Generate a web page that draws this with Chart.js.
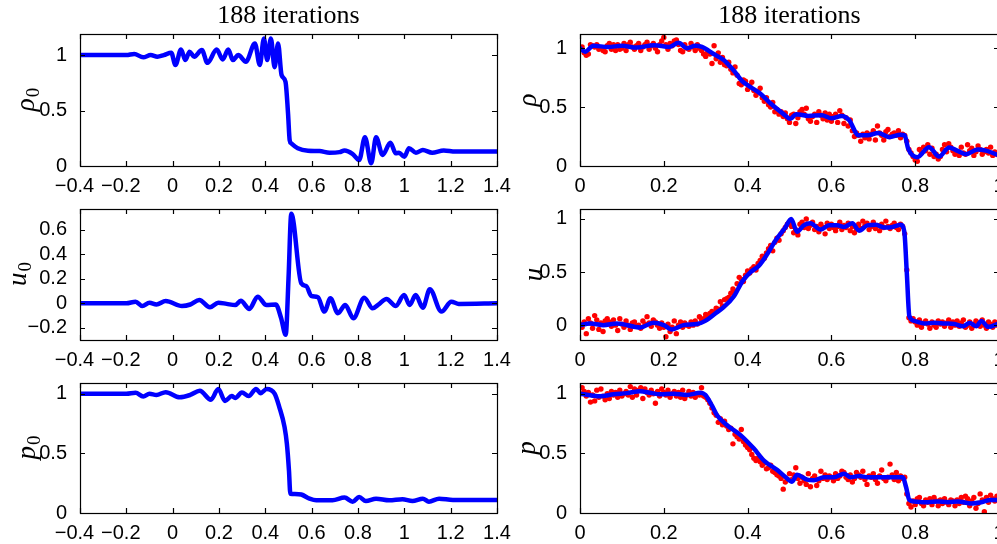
<!DOCTYPE html>
<html>
<head>
<meta charset="utf-8">
<script src="https://cdn.jsdelivr.net/npm/chart.js@4.4.0/dist/chart.umd.min.js"></script>
<style>
  html, body { margin: 0; padding: 0; background: #fff; overflow: hidden; width: 997px; height: 544px; }
  canvas { position: absolute; }
</style>
</head>
<body>
<canvas id="rho0"></canvas>
<canvas id="u0"></canvas>
<canvas id="p0"></canvas>
<canvas id="rho"></canvas>
<canvas id="u"></canvas>
<canvas id="p"></canvas>
<script>
// tick labels
const xTicksLeft = [-0.4, -0.2, 0, 0.2, 0.4, 0.6, 0.8, 1, 1.2, 1.4];
const xTicksRight = [0, 0.2, 0.4, 0.6, 0.8, 1];
const yTicksHalf = [0, 0.5, 1];
const yTicksU0 = [-0.2, 0, 0.2, 0.4, 0.6];

// left column: initial guesses
const rho0X = [-0.4, -0.2, -0.166, -0.127, -0.095, -0.066, -0.038, -0.006, 0.012, 0.036,
  0.055, 0.073, 0.093, 0.126, 0.15, 0.19, 0.216, 0.24, 0.26, 0.283,
  0.316, 0.355, 0.376, 0.394, 0.408, 0.424, 0.44, 0.455, 0.47, 0.487,
  0.498, 0.505, 0.512, 0.54, 0.584, 0.634, 0.677, 0.72, 0.742, 0.776,
  0.805, 0.83, 0.857, 0.878, 0.906, 0.94, 0.963, 0.977, 1.0, 1.02,
  1.05, 1.08, 1.12, 1.17, 1.22, 1.4];
const rho0Y = [1, 1, 1.01, 0.98, 1, 0.985, 1, 1.02, 0.91, 1.05,
  0.955, 1.03, 0.985, 1.045, 0.93, 1.05, 0.96, 1.05, 0.955, 1.0,
  0.94, 1.105, 0.91, 1.15, 0.955, 1.15, 0.89, 1.105, 0.82, 0.76,
  0.475, 0.234, 0.204, 0.16, 0.138, 0.135, 0.12, 0.125, 0.14, 0.11,
  0.054, 0.26, 0.024, 0.26, 0.1, 0.21, 0.115, 0.12, 0.084, 0.16,
  0.12, 0.144, 0.12, 0.14, 0.13, 0.13];

const u0X = [-0.4, -0.2, -0.16, -0.131, -0.1, -0.07, -0.03, 0.04, 0.076, 0.115,
  0.161, 0.197, 0.233, 0.27, 0.294, 0.331, 0.367, 0.405, 0.445, 0.468,
  0.488, 0.5, 0.512, 0.555, 0.577, 0.598, 0.627, 0.655, 0.681, 0.713,
  0.745, 0.78, 0.827, 0.863, 0.891, 0.923, 0.963, 0.999, 1.023, 1.049,
  1.08, 1.11, 1.16, 1.203, 1.235, 1.4];
const u0Y = [0, 0, 0.013, -0.022, 0.005, -0.01, 0.019, -0.022, -0.01, 0.027,
  -0.033, 0.005, -0.005, -0.015, 0.02, -0.046, 0.054, -0.015, -0.01, -0.12,
  -0.258, 0.2, 0.732, 0.163, 0.14, 0.06, 0.049, -0.068, 0.04, -0.081,
  -0.014, -0.122, 0.046, -0.041, -0.006, 0.035, -0.022, 0.067, -0.014, 0.067,
  -0.036, 0.114, -0.068, 0.013, -0.005, 0];

const p0X = [-0.4, -0.2, -0.16, -0.127, -0.1, -0.07, -0.03, 0.03, 0.076, 0.117,
  0.165, 0.197, 0.226, 0.255, 0.27, 0.299, 0.328, 0.36, 0.38, 0.406,
  0.44, 0.46, 0.483, 0.493, 0.502, 0.508, 0.527, 0.555, 0.591, 0.62,
  0.69, 0.742, 0.777, 0.805, 0.834, 0.878, 0.935, 0.992, 1.035, 1.08,
  1.106, 1.15, 1.21, 1.4];
const p0Y = [1, 1, 1.008, 0.977, 1, 0.99, 1.013, 0.97, 0.99, 1.025,
  0.95, 1.04, 0.94, 0.98, 0.965, 1.01, 0.98, 1.04, 1.005, 1.04,
  1.0, 0.89, 0.72, 0.58, 0.357, 0.162, 0.16, 0.155, 0.12, 0.106,
  0.106, 0.129, 0.095, 0.134, 0.1, 0.12, 0.106, 0.115, 0.1, 0.12,
  0.095, 0.12, 0.11, 0.11];

// right column: reconstruction (blue)
const rhoX = [0, 0.012, 0.032, 0.067, 0.1, 0.135, 0.177, 0.213, 0.235, 0.255,
  0.275, 0.291, 0.319, 0.343, 0.367, 0.387, 0.407, 0.43, 0.455, 0.486,
  0.502, 0.516, 0.545, 0.577, 0.6, 0.625, 0.642, 0.665, 0.686, 0.712,
  0.738, 0.765, 0.775, 0.783, 0.805, 0.833, 0.857, 0.881, 0.9, 0.921,
  0.949, 0.969, 1.0];
const rhoY = [1.0, 0.97, 1.02, 1.01, 1.02, 1.005, 1.025, 1.01, 1.045, 1.0,
  1.02, 1.01, 0.95, 0.9, 0.81, 0.72, 0.67, 0.616, 0.53, 0.44,
  0.40, 0.44, 0.425, 0.43, 0.405, 0.425, 0.39, 0.26, 0.26, 0.28,
  0.245, 0.265, 0.26, 0.15, 0.075, 0.16, 0.08, 0.158, 0.13, 0.1,
  0.14, 0.13, 0.09];

const uX = [0, 0.024, 0.056, 0.088, 0.144, 0.175, 0.2, 0.219, 0.247, 0.279,
  0.299, 0.323, 0.343, 0.367, 0.387, 0.407, 0.427, 0.447, 0.467, 0.49,
  0.504, 0.518, 0.534, 0.55, 0.574, 0.594, 0.614, 0.63, 0.65, 0.666,
  0.686, 0.706, 0.726, 0.746, 0.766, 0.774, 0.78, 0.786, 0.798, 0.822,
  0.846, 0.87, 0.894, 0.914, 0.93, 0.946, 0.958, 0.974, 1.0];
const uY = [0, 0.016, 0, 0.016, -0.022, 0.022, 0, -0.041, 0, 0.01,
  0.04, 0.11, 0.17, 0.27, 0.41, 0.5, 0.56, 0.67, 0.8, 0.92,
  1.0, 0.88, 0.94, 0.96, 0.9, 0.94, 0.94, 0.925, 0.96, 0.89,
  0.94, 0.945, 0.92, 0.925, 0.945, 0.88, 0.49, 0.085, 0.04, 0.016,
  0.022, 0.016, 0.01, -0.01, 0.02, -0.01, 0.04, -0.016, 0.016];

const pX = [0, 0.028, 0.048, 0.08, 0.112, 0.144, 0.167, 0.191, 0.223, 0.255,
  0.287, 0.299, 0.315, 0.327, 0.351, 0.383, 0.415, 0.439, 0.471, 0.491,
  0.506, 0.518, 0.542, 0.558, 0.582, 0.606, 0.63, 0.646, 0.666, 0.686,
  0.718, 0.75, 0.77, 0.778, 0.786, 0.798, 0.83, 0.854, 0.878, 0.902,
  0.934, 0.958, 0.98, 1.0];
const pY = [1, 0.986, 0.978, 0.995, 1.005, 1.02, 1.008, 0.995, 1, 0.99,
  1.008, 0.99, 0.9, 0.82, 0.736, 0.653, 0.54, 0.44, 0.36, 0.3,
  0.263, 0.32, 0.28, 0.275, 0.3, 0.3, 0.33, 0.3, 0.31, 0.3,
  0.3, 0.3, 0.3, 0.22, 0.11, 0.097, 0.09, 0.097, 0.09, 0.097,
  0.08, 0.09, 0.11, 0.11];

// right column: noisy samples (red)
const dotX = [0, 0.005, 0.01, 0.015, 0.02, 0.025, 0.03, 0.035, 0.04, 0.045,
  0.05, 0.055, 0.06, 0.065, 0.07, 0.075, 0.08, 0.085, 0.09, 0.095,
  0.1, 0.105, 0.11, 0.115, 0.12, 0.125, 0.13, 0.135, 0.14, 0.145,
  0.15, 0.155, 0.16, 0.165, 0.17, 0.175, 0.18, 0.185, 0.19, 0.195,
  0.2, 0.205, 0.21, 0.215, 0.22, 0.225, 0.23, 0.235, 0.24, 0.245,
  0.25, 0.255, 0.26, 0.265, 0.27, 0.275, 0.28, 0.285, 0.29, 0.295,
  0.3, 0.305, 0.31, 0.315, 0.32, 0.325, 0.33, 0.335, 0.34, 0.345,
  0.35, 0.355, 0.36, 0.365, 0.37, 0.375, 0.38, 0.385, 0.39, 0.395,
  0.4, 0.405, 0.41, 0.415, 0.42, 0.425, 0.43, 0.435, 0.44, 0.445,
  0.45, 0.455, 0.46, 0.465, 0.47, 0.475, 0.48, 0.485, 0.49, 0.495,
  0.5, 0.505, 0.51, 0.515, 0.52, 0.525, 0.53, 0.535, 0.54, 0.545,
  0.55, 0.555, 0.56, 0.565, 0.57, 0.575, 0.58, 0.585, 0.59, 0.595,
  0.6, 0.605, 0.61, 0.615, 0.62, 0.625, 0.63, 0.635, 0.64, 0.645,
  0.65, 0.655, 0.66, 0.665, 0.67, 0.675, 0.68, 0.685, 0.69, 0.695,
  0.7, 0.705, 0.71, 0.715, 0.72, 0.725, 0.73, 0.735, 0.74, 0.745,
  0.75, 0.755, 0.76, 0.765, 0.77, 0.775, 0.78, 0.785, 0.79, 0.795,
  0.8, 0.805, 0.81, 0.815, 0.82, 0.825, 0.83, 0.835, 0.84, 0.845,
  0.85, 0.855, 0.86, 0.865, 0.87, 0.875, 0.88, 0.885, 0.89, 0.895,
  0.9, 0.905, 0.91, 0.915, 0.92, 0.925, 0.93, 0.935, 0.94, 0.945,
  0.95, 0.955, 0.96, 0.965, 0.97, 0.975, 0.98, 0.985, 0.99, 0.995,
  1.0];
const rhoDots = [0.99, 1.01, 0.96, 0.94, 0.95, 1.03, 1.02, 1.01, 1.03, 0.99,
  1.0, 0.98, 0.97, 1.02, 1.04, 0.99, 1.03, 0.98, 1.03, 0.99,
  1.0, 1.04, 0.98, 1.03, 1.05, 1.01, 0.99, 1.02, 1.04, 0.98,
  1.01, 1.03, 1.05, 0.99, 1.02, 1.04, 1.0, 0.97, 1.03, 1.06,
  1.09, 1.03, 0.99, 1.04, 1.02, 1.06, 1.07, 1.03, 0.98, 0.97,
  1.03, 1.0, 0.99, 1.04, 1.01, 0.98, 1.03, 1.0, 0.98, 0.95,
  0.93, 0.97, 0.95, 0.87, 1.02, 0.91, 0.96, 0.88, 0.92, 0.86,
  0.85, 0.88, 0.82, 0.79, 0.84, 0.77, 0.70, 0.69, 0.73, 0.72,
  0.65, 0.68, 0.71, 0.64, 0.60, 0.63, 0.66, 0.58, 0.55, 0.58,
  0.52, 0.50, 0.54, 0.46, 0.48, 0.44, 0.46, 0.42, 0.45, 0.40,
  0.37, 0.43, 0.44, 0.36, 0.41, 0.46, 0.48, 0.44, 0.49, 0.40,
  0.38, 0.42, 0.44, 0.37, 0.46, 0.43, 0.40, 0.45, 0.39, 0.44,
  0.38, 0.42, 0.44, 0.37, 0.47, 0.43, 0.36, 0.41, 0.34, 0.39,
  0.30, 0.25, 0.28, 0.26, 0.21, 0.27, 0.24, 0.28, 0.23, 0.27,
  0.30, 0.22, 0.34, 0.28, 0.26, 0.22, 0.29, 0.31, 0.25, 0.27,
  0.28, 0.26, 0.30, 0.24, 0.27, 0.26, 0.21, 0.14, 0.11, 0.08,
  0.05, 0.04, 0.14, 0.11, 0.16, 0.13, 0.18, 0.10, 0.15, 0.08,
  0.10, 0.06, 0.08, 0.14, 0.18, 0.12, 0.19, 0.16, 0.13, 0.10,
  0.12, 0.09, 0.16, 0.11, 0.10, 0.18, 0.13, 0.15, 0.09, 0.12,
  0.17, 0.14, 0.10, 0.12, 0.14, 0.11, 0.16, 0.09, 0.12, 0.10,
  0.09];
const uDots = [0.01, -0.02, 0.03, -0.08, 0.06, 0.02, -0.03, 0.09, 0.05, -0.04,
  0.02, -0.06, 0.04, 0.06, 0.03, -0.01, 0.05, 0.0, -0.05, 0.06,
  0.01, -0.02, 0.04, 0.0, -0.04, 0.02, 0.03, -0.01, 0.0, -0.03,
  0.04, 0.01, 0.08, 0.02, -0.01, 0.05, 0.03, 0.0, -0.03, 0.02,
  -0.02, -0.11, 0.01, -0.06, -0.02, 0.04, -0.08, 0.0, 0.03, -0.02,
  0.02, 0.0, -0.01, 0.03, 0.0, 0.04, 0.01, 0.08, 0.05, 0.06,
  0.10, 0.08, 0.11, 0.13, 0.12, 0.16, 0.15, 0.22, 0.18, 0.24,
  0.25, 0.26, 0.30, 0.34, 0.32, 0.39, 0.45, 0.43, 0.41, 0.47,
  0.51, 0.49, 0.53, 0.55, 0.52, 0.58, 0.61, 0.65, 0.63, 0.68,
  0.72, 0.75, 0.70, 0.78, 0.82, 0.80, 0.86, 0.89, 0.92, 0.95,
  0.96, 0.93, 0.87, 0.90, 0.85, 0.95, 0.97, 0.92, 1.0, 0.91,
  0.94, 0.97, 0.90, 0.93, 0.88, 0.95, 0.92, 0.86, 0.96, 0.91,
  0.95, 0.92, 0.89, 0.93, 0.97, 0.90, 0.94, 0.92, 0.96, 0.89,
  0.93, 0.87, 0.90, 0.95, 0.91, 0.98, 0.94, 0.96, 0.90, 0.93,
  0.97, 0.91, 0.94, 0.89, 0.95, 0.92, 0.98, 0.93, 0.91, 0.94,
  0.96, 0.92, 0.90, 0.95, 0.93, 0.86, 0.52, 0.07, 0.04, 0.06,
  0.03, 0.0, 0.05, -0.02, 0.02, 0.04, 0.01, -0.03, 0.03, 0.0,
  -0.02, 0.04, 0.01, 0.03, -0.01, 0.02, 0.05, -0.02, 0.03, 0.0,
  0.04, -0.01, 0.02, 0.05, -0.02, 0.0, 0.03, -0.03, 0.01, 0.04,
  0.02, -0.01, 0.05, 0.0, -0.03, 0.03, 0.01, -0.02, 0.03, 0.0,
  0.02];
const pDots = [1.0, 1.05, 1.02, 0.98, 1.01, 0.93, 0.99, 0.94, 1.03, 0.97,
  1.04, 0.98, 0.95, 1.0, 0.96, 1.02, 0.99, 1.01, 0.97, 1.03,
  0.98, 1.0, 1.02, 0.99, 1.06, 0.97, 1.04, 0.99, 1.03, 1.05,
  0.96, 1.04, 1.01, 0.99, 1.03, 1.0, 0.92, 1.02, 0.98, 1.04,
  1.01, 0.99, 1.03, 0.97, 1.0, 1.02, 0.98, 1.01, 0.97, 1.03,
  0.96, 0.99, 1.02, 0.98, 1.01, 0.97, 1.0, 0.99, 1.05, 0.98,
  0.97, 0.95, 0.92, 0.88, 0.84, 0.82, 0.76, 0.79, 0.74, 0.77,
  0.73, 0.70, 0.71, 0.58, 0.66, 0.64, 0.62, 0.70, 0.60, 0.57,
  0.55, 0.53, 0.49, 0.46, 0.44, 0.46, 0.43, 0.40, 0.42, 0.37,
  0.38, 0.40, 0.35, 0.34, 0.32, 0.31, 0.29, 0.20, 0.26, 0.28,
  0.33, 0.28, 0.32, 0.38, 0.29, 0.25, 0.30, 0.27, 0.24, 0.33,
  0.22, 0.29, 0.31, 0.23, 0.27, 0.35, 0.29, 0.32, 0.28, 0.31,
  0.30, 0.27, 0.33, 0.29, 0.31, 0.35, 0.34, 0.30, 0.28, 0.32,
  0.26, 0.29, 0.34, 0.32, 0.30, 0.35, 0.28, 0.24, 0.31, 0.30,
  0.33, 0.28, 0.25, 0.31, 0.36, 0.29, 0.27, 0.30, 0.41, 0.32,
  0.28, 0.34, 0.27, 0.31, 0.29, 0.30, 0.16, 0.08, 0.05, 0.10,
  0.07, 0.12, 0.13, 0.08, 0.06, 0.11, 0.09, 0.12, 0.07, 0.13,
  0.10, 0.06, 0.11, 0.08, 0.12, 0.09, 0.07, 0.11, 0.10, 0.06,
  0.11, 0.08, 0.13, 0.09, 0.14, 0.12, 0.06, 0.10, 0.13, 0.04,
  0.08, 0.16, 0.11, 0.01, 0.13, 0.09, 0.15, 0.12, 0.10, 0.14,
  0.11];

function fmt(v) {
  return String(Math.round(v * 10) / 10).replace('-', '\u2212');
}

// x labels: MATLAB centres the digits and lets the minus sign hang left
function fmtX(v) {
  const s = fmt(v);
  return s.charAt(0) === '\u2212' ? s + '\u2007' : s;
}

function pairs(xs, ys) {
  return xs.map((x, i) => ({ x: x, y: ys[i] }));
}

// box, inward ticks, title and y label, drawn the MATLAB way
const matlabAxes = {
  id: 'matlabAxes',
  afterDatasetsDraw(chart, args, opts) {
    const ctx = chart.ctx;
    const a = chart.chartArea;
    const xs = chart.scales.x, ys = chart.scales.y;
    ctx.save();
    ctx.strokeStyle = '#000';
    ctx.lineWidth = 1.2;
    ctx.strokeRect(a.left + 0.5, a.top + 0.5, a.right - a.left, a.bottom - a.top);
    ctx.beginPath();
    const tl = 5;
    xs.ticks.forEach(t => {
      const px = Math.round(xs.getPixelForValue(t.value)) + 0.5;
      ctx.moveTo(px, a.bottom); ctx.lineTo(px, a.bottom - tl);
      ctx.moveTo(px, a.top); ctx.lineTo(px, a.top + tl);
    });
    ys.ticks.forEach(t => {
      const py = Math.round(ys.getPixelForValue(t.value)) + 0.5;
      ctx.moveTo(a.left, py); ctx.lineTo(a.left + tl, py);
      ctx.moveTo(a.right, py); ctx.lineTo(a.right - tl, py);
    });
    ctx.stroke();
    ctx.restore();
  },
  afterDraw(chart, args, opts) {
    const ctx = chart.ctx;
    const a = chart.chartArea;
    ctx.save();
    ctx.fillStyle = '#000';
    if (opts.title) {
      ctx.font = '26px "Liberation Serif"';
      ctx.textAlign = 'center';
      ctx.textBaseline = 'alphabetic';
      ctx.fillText(opts.title, (a.left + a.right) / 2, 23);
    }
    // rotated y label
    ctx.translate(opts.labelX, (a.top + a.bottom) / 2);
    ctx.rotate(-Math.PI / 2);
    ctx.textBaseline = 'alphabetic';
    ctx.font = 'italic 27px "Liberation Serif"';
    const w1 = ctx.measureText(opts.label).width;
    let w2 = 0;
    if (opts.sub) {
      ctx.font = '19px "Liberation Serif"';
      w2 = ctx.measureText(opts.sub).width;
    }
    const x0 = -(w1 + w2) / 2;
    ctx.textAlign = 'left';
    ctx.font = 'italic 27px "Liberation Serif"';
    ctx.fillText(opts.label, x0, 0);
    if (opts.sub) {
      ctx.font = '19px "Liberation Serif"';
      ctx.fillText(opts.sub, x0 + w1 + 1, 5);
    }
    ctx.restore();
  }
};

function makePlot(p) {
  const canvas = document.getElementById(p.id);
  canvas.width = p.w;
  canvas.height = p.h;
  canvas.style.left = p.left + 'px';
  canvas.style.top = p.top + 'px';
  canvas.style.width = p.w + 'px';
  canvas.style.height = p.h + 'px';

  const datasets = [{
    type: 'line',
    data: pairs(p.lineX, p.lineY),
    borderColor: '#0000ff',
    borderWidth: 4.5,
    pointRadius: 0,
    cubicInterpolationMode: 'monotone',
    borderJoinStyle: 'round',
    borderCapStyle: 'round',
    fill: false,
    order: 0
  }];
  if (p.dots) {
    datasets.push({
      type: 'scatter',
      data: pairs(dotX, p.dots),
      backgroundColor: '#ff0000',
      borderWidth: 0,
      pointRadius: 2.7,
      showLine: false,
      order: 1
    });
  }

  const tickFont = { family: '"Liberation Sans", Arial, sans-serif', size: 20 };

  new Chart(canvas.getContext('2d'), {
    type: 'line',
    data: { datasets: datasets },
    plugins: [matlabAxes],
    options: {
      responsive: false,
      animation: false,
      events: [],
      layout: {
        padding: { left: 0, top: p.box.t - p.top, right: p.left + p.w - p.box.r, bottom: 0 }
      },
      plugins: {
        legend: { display: false },
        tooltip: { enabled: false },
        matlabAxes: { title: p.title, label: p.label, sub: p.sub, labelX: p.labelX }
      },
      scales: {
        x: {
          type: 'linear',
          min: p.xMin,
          max: p.xMax,
          grid: { display: false },
          border: { display: false },
          afterBuildTicks: s => { s.ticks = p.xTicks.map(v => ({ value: v })); },
          afterFit: s => { s.height = p.h - (p.box.b - p.top); },
          ticks: {
            color: '#000', font: tickFont, padding: 0,
            maxRotation: 0, autoSkip: false,
            callback: v => fmtX(v)
          }
        },
        y: {
          type: 'linear',
          min: p.yMin,
          max: p.yMax,
          grid: { display: false },
          border: { display: false },
          afterBuildTicks: s => { s.ticks = p.yTicks.map(v => ({ value: v })); },
          afterFit: s => { s.width = p.box.l - p.left; },
          ticks: {
            color: '#000', font: tickFont, padding: 5,
            callback: v => fmt(v)
          }
        }
      }
    }
  });
}

// left column
makePlot({ id: 'rho0', left: 0, top: 0, w: 530, h: 200, box: { l: 80, r: 497, t: 34, b: 166 },
  xMin: -0.4, xMax: 1.4, yMin: 0, yMax: 1.19, xTicks: xTicksLeft, yTicks: yTicksHalf,
  lineX: rho0X, lineY: rho0Y, title: '188 iterations', label: '\u03c1', sub: '0', labelX: 34 });
makePlot({ id: 'u0', left: 0, top: 180, w: 530, h: 200, box: { l: 80, r: 497, t: 209, b: 340 },
  xMin: -0.4, xMax: 1.4, yMin: -0.3, yMax: 0.77, xTicks: xTicksLeft, yTicks: yTicksU0,
  lineX: u0X, lineY: u0Y, label: 'u', sub: '0', labelX: 25.5 });
makePlot({ id: 'p0', left: 0, top: 354, w: 530, h: 190, box: { l: 80, r: 497, t: 383, b: 513 },
  xMin: -0.4, xMax: 1.4, yMin: 0, yMax: 1.09, xTicks: xTicksLeft, yTicks: yTicksHalf,
  lineX: p0X, lineY: p0Y, label: 'p', sub: '0', labelX: 35 });

// right column
makePlot({ id: 'rho', left: 500, top: 0, w: 530, h: 200, box: { l: 580, r: 999, t: 34, b: 166 },
  xMin: 0, xMax: 1, yMin: 0, yMax: 1.12, xTicks: xTicksRight, yTicks: yTicksHalf,
  lineX: rhoX, lineY: rhoY, dots: rhoDots, title: '188 iterations', label: '\u03c1', labelX: 36 });
makePlot({ id: 'u', left: 500, top: 180, w: 530, h: 200, box: { l: 580, r: 999, t: 209, b: 340 },
  xMin: 0, xMax: 1, yMin: -0.14, yMax: 1.094, xTicks: xTicksRight, yTicks: yTicksHalf,
  lineX: uX, lineY: uY, dots: uDots, label: 'u', labelX: 41.5 });
makePlot({ id: 'p', left: 500, top: 354, w: 530, h: 190, box: { l: 580, r: 999, t: 383, b: 513 },
  xMin: 0, xMax: 1, yMin: 0, yMax: 1.09, xTicks: xTicksRight, yTicks: yTicksHalf,
  lineX: pX, lineY: pY, dots: pDots, label: 'p', labelX: 35 });
</script>
</body>
</html>
